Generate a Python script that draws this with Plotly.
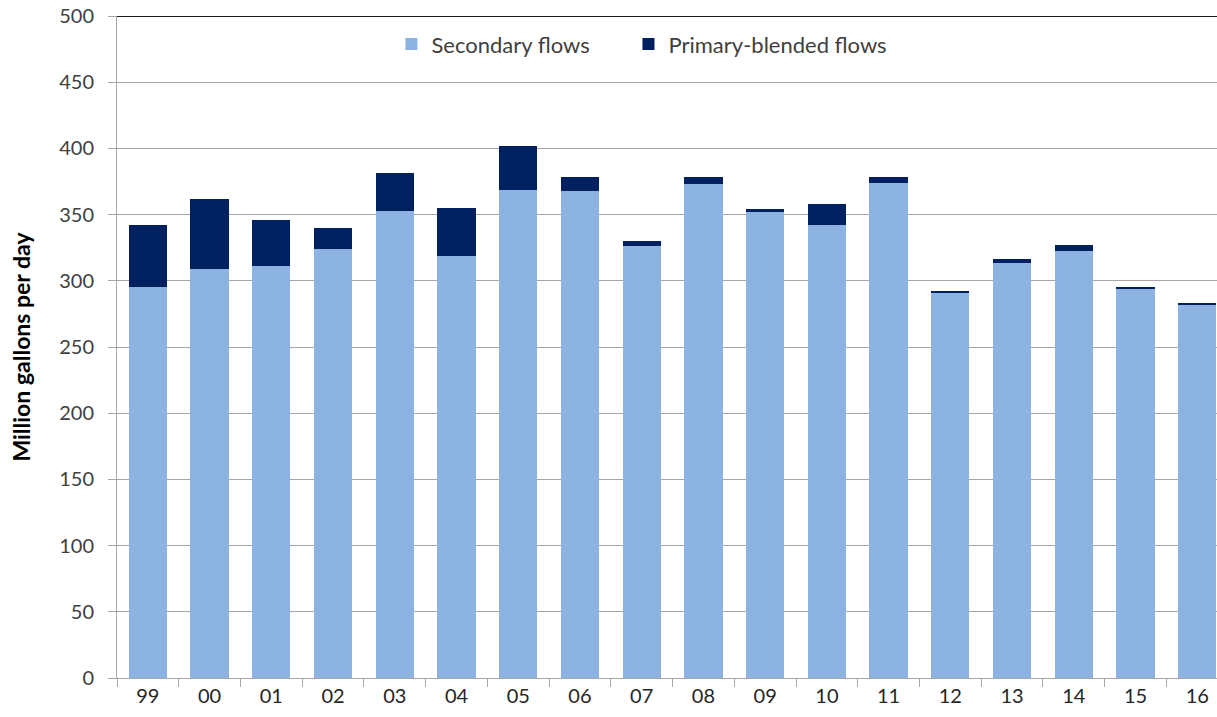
import plotly.graph_objects as go

years = ["99", "00", "01", "02", "03", "04", "05", "06", "07",
         "08", "09", "10", "11", "12", "13", "14", "15", "16"]
secondary = [295.5, 308.7, 311.2, 323.7, 352.7, 318.7, 368.5, 367.7, 326.2,
             373.0, 352.7, 342.0, 374.2, 290.8, 313.8, 322.8, 294.5, 282.0]
primary_blended = [47.0, 53.0, 34.8, 16.5, 29.0, 36.3, 33.2, 10.8, 4.0,
                   5.5, 1.5, 15.7, 4.3, 0.9, 3.0, 4.0, 0.8, 0.8]

FONT = "Lato"
LIGHT = "#8DB3E2"
DARK = "#002060"
PAD = "\u00a0" * 6  # extra room between the two legend entries

fig = go.Figure()
fig.add_trace(go.Bar(x=years, y=secondary, name="Secondary flows" + PAD,
                     marker=dict(color=LIGHT, line=dict(width=0))))
fig.add_trace(go.Bar(x=years, y=primary_blended, name="Primary-blended flows",
                     marker=dict(color=DARK, line=dict(width=0))))

fig.update_layout(
    barmode="stack",
    bargap=0.38,
    width=1217, height=717,
    margin=dict(l=117, r=0, t=16, b=39),
    paper_bgcolor="white",
    plot_bgcolor="white",
    font=dict(family=FONT, size=20, color="#404040"),
    legend=dict(orientation="h", x=0.2495, xanchor="left", y=0.989, yanchor="top",
                font=dict(family=FONT, size=22, color="#404040"),
                bgcolor="rgba(0,0,0,0)", itemwidth=30, traceorder="normal"),
    xaxis=dict(
        type="category",
        range=[-0.5, 17.32],
        showgrid=False,
        showline=True, linecolor="#A6A6A6", linewidth=1,
        ticks="outside", ticklen=8, tickcolor="#A6A6A6",
        tickson="boundaries",
        tickfont=dict(family=FONT, size=20, color="#262626"),
    ),
    yaxis=dict(
        range=[0, 500],
        tick0=0, dtick=50,
        showgrid=True, gridcolor="#A6A6A6", gridwidth=1,
        showline=True, linecolor="#A6A6A6", linewidth=1,
        ticks="outside", ticklen=8, tickcolor="#A6A6A6",
        ticklabelstandoff=10,
        tickfont=dict(family=FONT, size=20, color="#404040"),
        title=dict(text="<b>Million gallons per day</b>",
                   font=dict(family=FONT, size=23, color="#000000"),
                   standoff=22),
        zeroline=False,
    ),
)

# dark top border of the plotting area
fig.add_shape(type="line", xref="paper", yref="y", x0=0, x1=1, y0=500, y1=500,
              line=dict(color="#1a1a1a", width=2))

fig.write_html("out.html")
